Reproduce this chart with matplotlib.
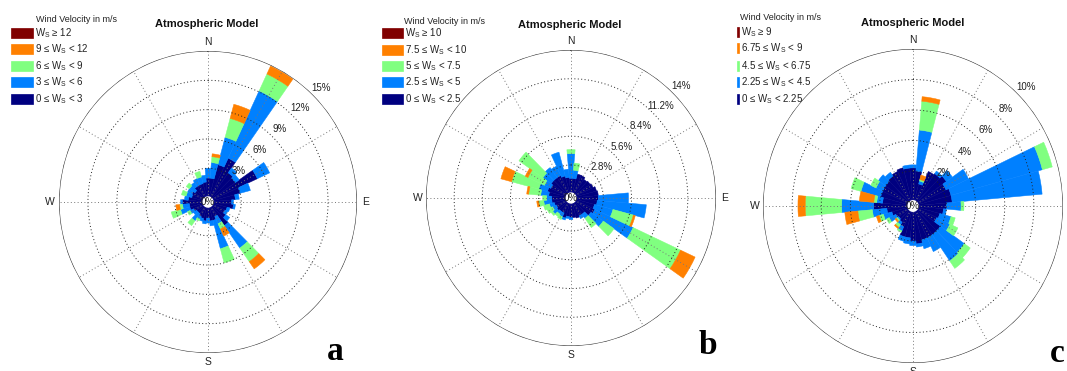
import numpy as np
import matplotlib
matplotlib.use("Agg")
import matplotlib.pyplot as plt
from matplotlib.patches import Rectangle

plt.rcParams['font.family'] = ['Liberation Sans', 'DejaVu Sans']
plt.rcParams['mathtext.fontset'] = 'custom'
plt.rcParams['mathtext.rm'] = 'Liberation Sans'
plt.rcParams['mathtext.it'] = 'Liberation Sans:italic'
plt.rcParams['mathtext.bf'] = 'Liberation Sans:bold'

# ---------------- data ----------------
directions = np.arange(0, 360, 10)  # bin centres, degrees from North, clockwise

# cumulative frequency (%) reached after each speed class (classes 1..4; class 5 empty)
a_c1 = [2.0,2.0,3.5,4.5,3.2,3.0,5.2,3.0,2.4,2.0,2.2,1.6,1.5,1.8,2.5,1.2,1.5,1.5,1.2,1.5,1.3,1.2,1.0,1.0,1.2,1.5,1.5,2.2,1.6,1.3,1.4,1.2,1.5,1.5,1.5,1.6]
a_c2 = [3.0,3.6,6.4,12.1,3.8,3.5,6.6,4.1,2.8,2.2,2.4,1.9,1.8,2.3,5.3,2.0,4.5,2.0,1.7,1.8,1.6,1.5,1.9,1.4,1.6,2.5,2.2,2.4,2.0,1.9,1.9,1.9,2.0,2.2,2.2,2.3]
a_c3 = [3.0,4.2,8.4,14.0,3.8,3.5,6.6,4.1,2.8,2.2,2.4,1.9,1.8,2.3,7.0,2.6,6.0,2.0,1.7,1.8,1.6,1.7,2.5,1.4,1.9,3.5,2.5,2.4,2.0,2.4,1.9,2.3,2.0,2.2,2.8,2.3]
a_c4 = [3.0,4.5,9.9,14.9,3.8,3.5,6.6,4.1,2.8,2.2,2.4,1.9,1.8,2.3,7.9,3.4,6.0,2.0,1.7,1.8,1.6,1.7,2.5,1.4,1.9,3.5,2.9,2.4,2.0,2.4,1.9,2.3,2.0,2.2,2.8,2.3]
a_c5 = a_c4

b_c1 = [1.5,1.5,2.0,2.0,1.8,1.9,2.0,2.2,2.3,2.3,2.2,2.0,2.2,2.0,1.5,1.5,1.6,1.5,1.5,1.4,1.6,1.2,1.2,1.3,1.2,1.3,1.5,1.5,1.8,2.0,1.8,2.0,2.0,2.0,1.8,1.6]
b_c2 = [3.9,2.3,2.0,2.0,1.8,1.9,2.0,2.2,2.3,5.3,7.1,3.9,6.4,3.5,2.0,1.8,1.6,1.5,1.7,1.6,1.8,1.6,1.5,1.8,1.6,1.8,2.3,2.0,2.6,2.9,2.5,3.0,3.2,3.0,4.2,2.4]
b_c3 = [4.3,3.0,2.0,2.0,1.8,1.9,2.0,2.2,2.3,5.3,7.1,6.0,11.6,4.8,3.1,1.8,1.6,1.5,1.7,1.6,1.8,1.9,1.8,2.0,2.2,2.4,2.8,2.4,3.8,5.7,4.3,5.9,3.2,3.0,4.2,2.4]
b_c4 = [4.3,3.0,2.0,2.0,1.8,1.9,2.0,2.2,2.3,5.3,7.1,6.2,13.2,4.8,3.1,1.8,1.6,1.5,1.7,1.6,1.8,1.9,1.8,2.0,2.2,2.4,3.0,2.4,4.0,6.8,4.6,5.9,3.2,3.0,4.2,2.4]
b_c5 = b_c4

c_c1 = [2.2,2.0,1.2,2.2,2.3,2.5,2.2,2.4,2.4,2.0,1.8,1.6,1.5,2.0,2.0,2.0,2.0,2.2,2.0,1.8,1.8,1.2,1.0,0.9,1.0,1.2,1.5,2.4,1.8,2.0,2.0,2.0,2.1,2.2,2.3,2.2]
c_c2 = [2.4,4.7,1.4,2.2,2.5,3.0,3.9,8.9,8.6,3.0,2.0,2.4,2.5,4.0,4.1,3.0,2.6,2.4,2.3,2.2,2.1,1.5,1.2,1.0,1.5,1.8,2.5,4.6,2.2,3.4,2.5,2.6,2.4,2.2,2.3,2.4]
c_c3 = [2.4,6.6,1.5,2.2,2.5,3.0,3.9,9.6,8.6,3.2,2.0,2.7,3.1,4.5,4.7,3.0,2.6,2.4,2.3,2.2,2.1,1.6,1.4,1.1,1.7,2.1,3.5,7.1,2.4,4.1,2.9,2.6,2.4,2.2,2.3,2.4]
c_c4 = [2.4,6.9,1.8,2.2,2.5,3.0,3.9,9.6,8.6,3.2,2.0,2.7,3.1,4.5,4.7,3.0,2.6,2.4,2.3,2.2,2.1,1.6,1.5,1.2,1.7,2.3,4.4,7.6,3.4,4.1,2.9,2.6,2.4,2.2,2.3,2.4]
c_c5 = c_c4

# speed class thresholds (m/s)
a_speeds = ['0', '3', '6', '9', '12']
b_speeds = ['0', '2.5', '5', '7.5', '10']
c_speeds = ['0', '2.25', '4.5', '6.75', '9']

# radial ticks (%)
a_ticks = [3, 6, 9, 12, 15]
b_ticks = [2.8, 5.6, 8.4, 11.2, 14]
c_ticks = [2, 4, 6, 8, 10]

panel_letters = ['a', 'b', 'c']
title_text = 'Atmospheric Model'
legend_title = 'Wind Velocity in m/s'

class_colors = ['#000080', '#0080ff', '#80ff80', '#ff8000', '#800000']

# ---------------- figure ----------------
W, H = 1067, 371
fig = plt.figure(figsize=(W / 100, H / 100), dpi=100)


def fx(x):
    return x / W


def fy(y):
    return 1 - y / H


def draw_rose(cx, cy, rx, ry, cums, ticks, show_e=True):
    rmax = ticks[-1]
    hole = 0.03 * rmax
    ax = fig.add_axes([fx(cx - rx), fy(cy + ry), 2 * rx / W, 2 * ry / H],
                      projection='polar')
    ax.set_aspect('auto')
    ax.set_theta_zero_location('N')
    ax.set_theta_direction(-1)
    ax.set_ylim(0, rmax + hole)
    ax.set_xticks([])
    ax.set_yticks([])
    ax.grid(False)
    ax.spines['polar'].set_visible(False)
    ax.patch.set_alpha(0)
    th = np.deg2rad(directions)
    wd = np.deg2rad(10)
    prev = np.zeros(len(directions))
    for k, cum in enumerate(cums):
        cum = np.asarray(cum, float)
        hgt = cum - prev
        m = hgt > 0
        ax.bar(th[m], hgt[m], width=wd, bottom=hole + prev[m],
               color=class_colors[k], edgecolor=class_colors[k], linewidth=0.35,
               align='center', zorder=2)
        prev = np.maximum(prev, cum)
    tt = np.linspace(0, 2 * np.pi, 400)
    for v in ticks[:-1]:
        ax.plot(tt, np.full_like(tt, hole + v), color='#222222', lw=0.7,
                linestyle=(0, (1, 2.5)), zorder=5)
    ax.plot(tt, np.full_like(tt, hole + rmax), color='#333333', lw=0.8, zorder=5)
    for a in range(0, 360, 30):
        ax.plot([np.deg2rad(a)] * 2, [hole, hole + rmax], color='#777777',
                lw=0.7, linestyle=(0, (1, 2.5)), zorder=5)
    # white centre
    ax.bar(0, hole * 1.3, width=2 * np.pi, bottom=0, color='white', zorder=6)
    px = rmax / ((rx + ry) / 2)  # data units per pixel
    for v in ticks:
        ax.text(np.deg2rad(45), hole + v + 11 * px, f'{v:g}%', fontsize=7,
                ha='center', va='center', color='#222222', zorder=7)
    ax.text(0, 0, '0%', fontsize=7, ha='center', va='center',
            color='#222222', zorder=7)
    for lab, a in zip(['N', 'E', 'S', 'W'], [0, 90, 180, 270]):
        if lab == 'E' and not show_e:
            continue
        ax.text(np.deg2rad(a), hole + rmax + 9 * px, lab, fontsize=7.5,
                ha='center', va='center', color='#222222', clip_on=False)
    return ax


def legend(x0, wrect, title_x, title_y, rows_y, speeds):
    fig.text(fx(title_x), fy(title_y), legend_title, fontsize=6.5,
             ha='center', va='center', color='#222222')
    labels = ['W$_\\mathregular{S}$ \u2265 ' + speeds[4]]
    for k in (3, 2, 1, 0):
        labels.append(speeds[k] + ' \u2264 W$_\\mathregular{S}$ < ' + speeds[k + 1])
    cols = class_colors[::-1]
    for lab, col, y in zip(labels, cols, rows_y):
        fig.add_artist(Rectangle((fx(x0), fy(y + 5)), wrect / W, 10 / H,
                                 transform=fig.transFigure, facecolor=col,
                                 edgecolor=col, lw=0.5))
        fig.text(fx(x0 + wrect + 2), fy(y), lab, fontsize=7, ha='left',
                 va='center', color='#222222')


panels = [
    dict(c=(208, 202, 149, 151), cums=[a_c1, a_c2, a_c3, a_c4, a_c5], ticks=a_ticks,
         title=(207, 24), leg=(10.7, 22.3, 76, 19, [33, 49, 66, 82, 99], a_speeds),
         letter=(335, 351), show_e=True),
    dict(c=(571, 198, 145, 148), cums=[b_c1, b_c2, b_c3, b_c4, b_c5], ticks=b_ticks,
         title=(570, 25), leg=(381.7, 21.3, 444, 21, [33, 50, 66, 82, 99], b_speeds),
         letter=(708, 346), show_e=True),
    dict(c=(913, 206, 150, 157), cums=[c_c1, c_c2, c_c3, c_c4, c_c5], ticks=c_ticks,
         title=(913, 23), leg=(737, 1.6, 781, 17, [32, 48, 66, 82, 99], c_speeds),
         letter=(1057, 353), show_e=False),
]

for p, letter in zip(panels, panel_letters):
    cx, cy, rx, ry = p['c']
    draw_rose(cx, cy, rx, ry, p['cums'], p['ticks'], p['show_e'])
    fig.text(fx(p['title'][0]), fy(p['title'][1]), title_text, fontsize=8,
             fontweight='bold', ha='center', va='center', color='#111111')
    legend(*p['leg'])
    fig.text(fx(p['letter'][0]), fy(p['letter'][1]), letter, fontsize=24,
             fontweight='bold', family='Liberation Serif', ha='center',
             va='center', color='black')

fig.savefig('out.png', dpi=100, facecolor='white')
